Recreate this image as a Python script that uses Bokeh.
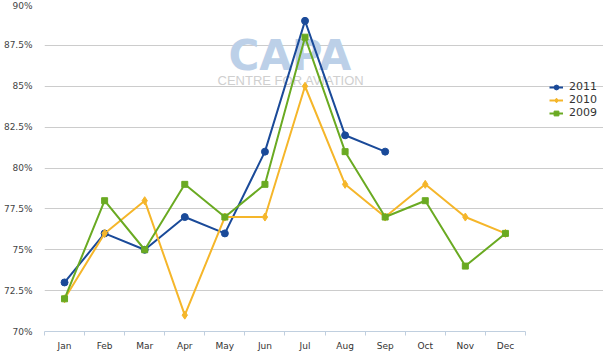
from bokeh.plotting import figure
from bokeh.models import FixedTicker, Legend, LegendItem, Label, Range1d
from bokeh.embed import file_html
from bokeh.resources import INLINE

months = ["Jan", "Feb", "Mar", "Apr", "May", "Jun", "Jul", "Aug", "Sep", "Oct", "Nov", "Dec"]
y2011 = [73, 76, 75, 77, 76, 81, 89, 82, 81]
y2010 = [72, 76, 78, 71, 77, 77, 85, 79, 77, 79, 77, 76]
y2009 = [72, 78, 75, 79, 77, 79, 88, 81, 77, 78, 74, 76]
ytick_vals = [70, 72.5, 75, 77.5, 80, 82.5, 85, 87.5, 90]
ytick_labels = ["70%", "72.5%", "75%", "77.5%", "80%", "82.5%", "85%", "87.5%", "90%"]

C2011 = "#1a4a99"
C2010 = "#f5b62a"
C2009 = "#6aaa22"
FONT = "DejaVu Sans"

n = len(months)
p = figure(frame_width=559, frame_height=327,
           min_border_left=35, min_border_right=0, min_border_top=4, min_border_bottom=14,
           x_range=Range1d(-0.5, 13.447), y_range=Range1d(70, 90),
           output_backend="svg", toolbar_location=None)
p.outline_line_color = None
p.background_fill_color = "white"

# watermark
p.add_layout(Label(x=5.62, y=88.35, text="CAPA", text_font=FONT, text_font_style="bold",
                   text_font_size="42px", text_color="#bcd0e8", text_align="center",
                   text_baseline="top", level="underlay"))
p.add_layout(Label(x=5.65, y=85.82, text="CENTRE FOR AVIATION", text_font="Liberation Sans",
                   text_font_size="13px", text_color="#cfcfcf", text_align="center",
                   text_baseline="top", level="underlay"))

xs = list(range(n))
l11 = p.line(xs[:len(y2011)], y2011, line_color=C2011, line_width=2)
s11 = p.scatter(xs[:len(y2011)], y2011, marker="circle", size=7, fill_color=C2011, line_color=C2011)
l10 = p.line(xs, y2010, line_color=C2010, line_width=2)
s10 = p.scatter(xs, y2010, marker="diamond", size=8, fill_color=C2010, line_color=C2010)
l09 = p.line(xs, y2009, line_color=C2009, line_width=2)
s09 = p.scatter(xs, y2009, marker="square", size=6, fill_color=C2009, line_color=C2009)

# x axis
xa = p.xaxis[0]
xa.bounds = (-0.5, n - 0.5)
xa.ticker = FixedTicker(ticks=xs, minor_ticks=[i - 0.5 for i in range(n + 1)])
xa.major_label_overrides = {i: m for i, m in enumerate(months)}
xa.major_tick_line_color = None
xa.minor_tick_in = 0
xa.minor_tick_out = 4
xa.minor_tick_line_color = "#c0cfdf"
xa.axis_line_color = "#c0cfdf"
xa.axis_line_width = 1
xa.major_label_text_font = FONT
xa.major_label_text_font_size = "9px"
xa.major_label_text_color = "#333333"
xa.major_label_standoff = 3

# y axis
ya = p.yaxis[0]
ya.ticker = FixedTicker(ticks=ytick_vals)
ya.major_label_overrides = {v: t for v, t in zip(ytick_vals, ytick_labels)}
ya.axis_line_color = None
ya.major_tick_line_color = None
ya.minor_tick_line_color = None
ya.major_label_text_font = FONT
ya.major_label_text_font_size = "9px"
ya.major_label_text_color = "#444444"
ya.major_label_standoff = 6

p.xgrid.grid_line_color = None
p.ygrid.ticker = FixedTicker(ticks=ytick_vals[1:])
p.ygrid.bounds = (-0.5, n - 0.5)
p.ygrid.grid_line_color = "#cccccc"
p.ygrid.grid_line_width = 1

legend = Legend(items=[LegendItem(label="2011", renderers=[l11, s11]),
                       LegendItem(label="2010", renderers=[l10, s10]),
                       LegendItem(label="2009", renderers=[l09, s09])],
                location=(505, 212), orientation="vertical",
                background_fill_alpha=0, border_line_color=None,
                padding=0, margin=0, spacing=0,
                glyph_width=14, glyph_height=12, label_height=12,
                label_standoff=6, label_text_font=FONT, label_text_font_size="11px",
                label_text_color="#333333")
p.add_layout(legend, "center")

open("out.html", "w").write(file_html(p, INLINE))
